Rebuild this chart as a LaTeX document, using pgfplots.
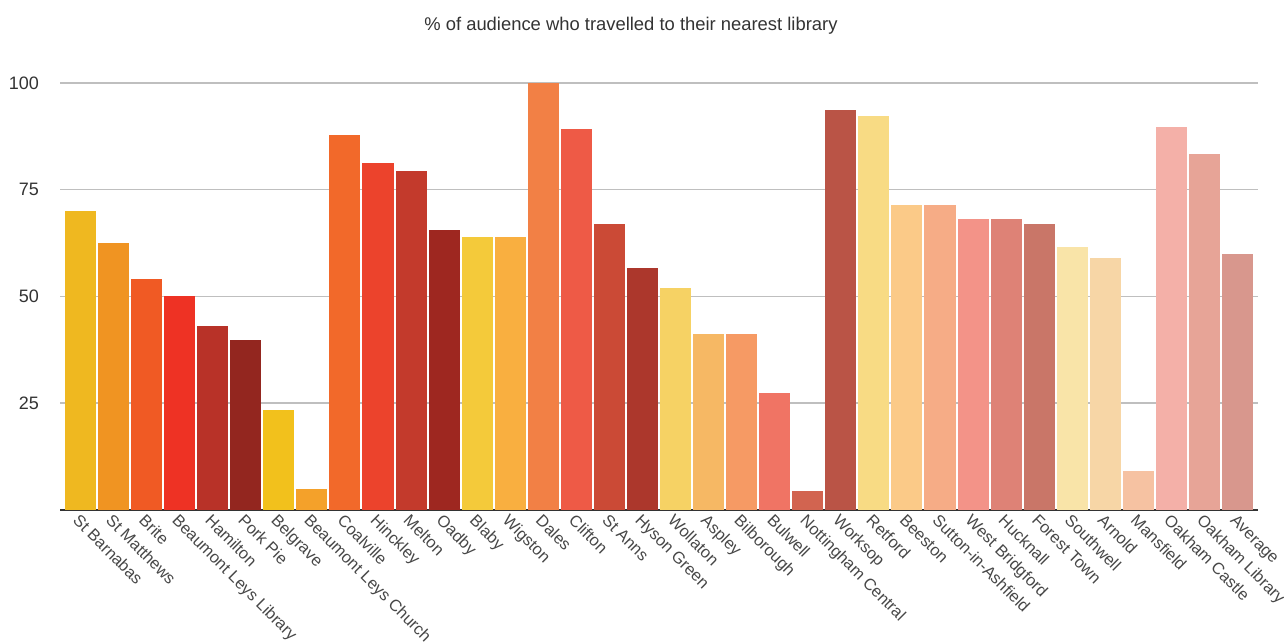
\documentclass[border=0pt]{standalone}
\usepackage{pgfplots}
\pgfplotsset{compat=1.18}
\usepackage{fontspec}
\setmainfont{Liberation Sans}
\definecolor{txt}{HTML}{333333}
\definecolor{c1}{HTML}{EFB820}
\definecolor{c2}{HTML}{F09422}
\definecolor{c3}{HTML}{F05A24}
\definecolor{c4}{HTML}{EE3224}
\definecolor{c5}{HTML}{B83228}
\definecolor{c6}{HTML}{93261F}
\definecolor{c7}{HTML}{F2C11C}
\definecolor{c8}{HTML}{F4A12A}
\definecolor{c9}{HTML}{F2692A}
\definecolor{c10}{HTML}{EC432C}
\definecolor{c11}{HTML}{C33A2C}
\definecolor{c12}{HTML}{9E2720}
\definecolor{c13}{HTML}{F4CA3A}
\definecolor{c14}{HTML}{F9AF40}
\definecolor{c15}{HTML}{F28045}
\definecolor{c16}{HTML}{EE5A46}
\definecolor{c17}{HTML}{CB4A36}
\definecolor{c18}{HTML}{AC372C}
\definecolor{c19}{HTML}{F6D264}
\definecolor{c20}{HTML}{F6B864}
\definecolor{c21}{HTML}{F69A64}
\definecolor{c22}{HTML}{F07464}
\definecolor{c23}{HTML}{D26450}
\definecolor{c24}{HTML}{BA5446}
\definecolor{c25}{HTML}{F8DB84}
\definecolor{c26}{HTML}{FBCA88}
\definecolor{c27}{HTML}{F6AC86}
\definecolor{c28}{HTML}{F39388}
\definecolor{c29}{HTML}{DE8276}
\definecolor{c30}{HTML}{C97668}
\definecolor{c31}{HTML}{F9E4A8}
\definecolor{c32}{HTML}{F7D6A6}
\definecolor{c33}{HTML}{F6C2A2}
\definecolor{c34}{HTML}{F4B0A8}
\definecolor{c35}{HTML}{E7A497}
\definecolor{c36}{HTML}{D8978D}
\begin{document}
\begin{tikzpicture}
\useasboundingbox (0,0) rectangle (642pt,321pt);
\begin{axis}[
  at={(30pt,66pt)}, anchor=south west,
  scale only axis, width=599pt, height=213.5pt,
  ybar, bar width=0.94, bar shift=0pt,
  xmin=-0.62, xmax=35.62, ymin=0, ymax=100,
  ytick={25,50,75,100},
  ymajorgrids, grid style={draw=black!25, line width=0.75pt},
  axis x line*=bottom, axis y line*=left,
  x axis line style={draw=txt, line width=1pt, -},
  y axis line style={draw=none},
  major tick length=0pt,
  xtick={0,...,35},
  xticklabels={St Barnabas,St Matthews,Brite,Beaumont Leys Library,Hamilton,Pork Pie,Belgrave,Beaumont Leys Church,Coalville,Hinckley,Melton,Oadby,Blaby,Wigston,Dales,Clifton,St Anns,Hyson Green,Wollaton,Aspley,Bilborough,Bulwell,Nottingham Central,Worksop,Retford,Beeston,Sutton-in-Ashfield,West Bridgford,Hucknall,Forest Town,Southwell,Arnold,Mansfield,Oakham Castle,Oakham Library,Average},
  xticklabel style={rotate=-45, anchor=north west, font=\fontsize{8.2}{10}\selectfont, text=txt!90, inner sep=1pt, xshift=0pt, yshift=0pt},
  yticklabel style={font=\fontsize{9}{10}\selectfont, text=txt, anchor=east, xshift=-7pt},
  /pgf/number format/assume math mode=true,
  title={\% of audience who travelled to their nearest library},
  title style={font=\fontsize{9.2}{11}\selectfont, text=txt, anchor=center, at={(0.4766,1)}, yshift=22.5pt},
  every axis plot/.append style={draw=none},
]
\addplot[fill=c1] coordinates {(0,70.0)};
\addplot[fill=c2] coordinates {(1,62.5)};
\addplot[fill=c3] coordinates {(2,54.1)};
\addplot[fill=c4] coordinates {(3,50.1)};
\addplot[fill=c5] coordinates {(4,43.1)};
\addplot[fill=c6] coordinates {(5,39.8)};
\addplot[fill=c7] coordinates {(6,23.4)};
\addplot[fill=c8] coordinates {(7,4.9)};
\addplot[fill=c9] coordinates {(8,87.8)};
\addplot[fill=c10] coordinates {(9,81.3)};
\addplot[fill=c11] coordinates {(10,79.4)};
\addplot[fill=c12] coordinates {(11,65.6)};
\addplot[fill=c13] coordinates {(12,63.9)};
\addplot[fill=c14] coordinates {(13,63.9)};
\addplot[fill=c15] coordinates {(14,100)};
\addplot[fill=c16] coordinates {(15,89.2)};
\addplot[fill=c17] coordinates {(16,67.0)};
\addplot[fill=c18] coordinates {(17,56.7)};
\addplot[fill=c19] coordinates {(18,52.0)};
\addplot[fill=c20] coordinates {(19,41.2)};
\addplot[fill=c21] coordinates {(20,41.2)};
\addplot[fill=c22] coordinates {(21,27.4)};
\addplot[fill=c23] coordinates {(22,4.4)};
\addplot[fill=c24] coordinates {(23,93.7)};
\addplot[fill=c25] coordinates {(24,92.3)};
\addplot[fill=c26] coordinates {(25,71.4)};
\addplot[fill=c27] coordinates {(26,71.4)};
\addplot[fill=c28] coordinates {(27,68.1)};
\addplot[fill=c29] coordinates {(28,68.1)};
\addplot[fill=c30] coordinates {(29,67.0)};
\addplot[fill=c31] coordinates {(30,61.6)};
\addplot[fill=c32] coordinates {(31,59.0)};
\addplot[fill=c33] coordinates {(32,9.1)};
\addplot[fill=c34] coordinates {(33,89.7)};
\addplot[fill=c35] coordinates {(34,83.4)};
\addplot[fill=c36] coordinates {(35,60.0)};
\end{axis}
\end{tikzpicture}
\end{document}
